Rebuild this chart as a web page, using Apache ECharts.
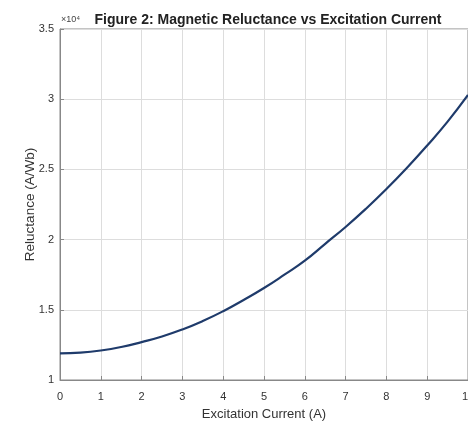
<!DOCTYPE html>
<html><head><meta charset="utf-8">
<script src="https://cdn.jsdelivr.net/npm/echarts@6/dist/echarts.min.js"></script>
<style>html,body{margin:0;padding:0;background:#fff}#c{width:468px;height:423px}</style>
</head><body><div id="c"></div>
<script>
const current = [0,0.5,1,1.5,2,2.5,3,3.5,4,4.5,5,5.5,6,6.5,7,7.5,8,8.5,9,9.5,10];
const reluctance = [11900,11950,12100,12350,12700,13100,13600,14200,14900,15700,16550,17500,18500,19700,20900,22200,23600,25100,26700,28400,30300];
const xTicks = [0,1,2,3,4,5,6,7,8,9,10];
const yTicks = [1,1.5,2,2.5,3,3.5];

const chart = echarts.init(document.getElementById('c'));
chart.setOption({
  animation:false,
  title:{text:'Figure 2: Magnetic Reluctance vs Excitation Current',left:263,top:8,textAlign:'center',
    textStyle:{fontFamily:'Liberation Sans',fontSize:14,fontWeight:'bold',color:'#222'}},
  graphic:[{type:'text',left:61,top:15,style:{text:'×10⁴',font:'9px Liberation Sans',fill:'#444'}}],
  grid:{left:60,top:29,right:0,bottom:43,show:true,borderColor:'#888',borderWidth:1,outerBoundsMode:'none',containLabel:false},
  xAxis:{type:'value',min:0,max:10,interval:1,
    name:'Excitation Current (A)',nameLocation:'middle',nameGap:28,nameMoveOverlap:false,
    nameTextStyle:{fontFamily:'Liberation Sans',fontSize:13,color:'#333'},
    axisLine:{show:true,lineStyle:{color:'#888'}},
    axisTick:{show:true,inside:true,length:4,lineStyle:{color:'#888'}},
    axisLabel:{fontFamily:'Liberation Sans',fontSize:11,color:'#333',margin:11},
    splitLine:{show:true,lineStyle:{color:'#ddd'}}},
  yAxis:{type:'value',min:10000,max:35000,interval:5000,
    name:'Reluctance (A/Wb)',nameLocation:'middle',nameGap:23,nameMoveOverlap:false,
    nameTextStyle:{fontFamily:'Liberation Sans',fontSize:13.5,color:'#333'},
    axisLine:{show:true,lineStyle:{color:'#888'}},
    axisTick:{show:true,inside:true,length:4,lineStyle:{color:'#888'}},
    axisLabel:{fontFamily:'Liberation Sans',fontSize:11,color:'#333',margin:6,
      formatter:v=>String(v/10000)},
    splitLine:{show:true,lineStyle:{color:'#ddd'}}},
  series:[{type:'line',data:current.map((c,i)=>[c,reluctance[i]]),smooth:true,showSymbol:false,
    lineStyle:{color:'#1f3b6b',width:2.2}}]
});
</script></body></html>
